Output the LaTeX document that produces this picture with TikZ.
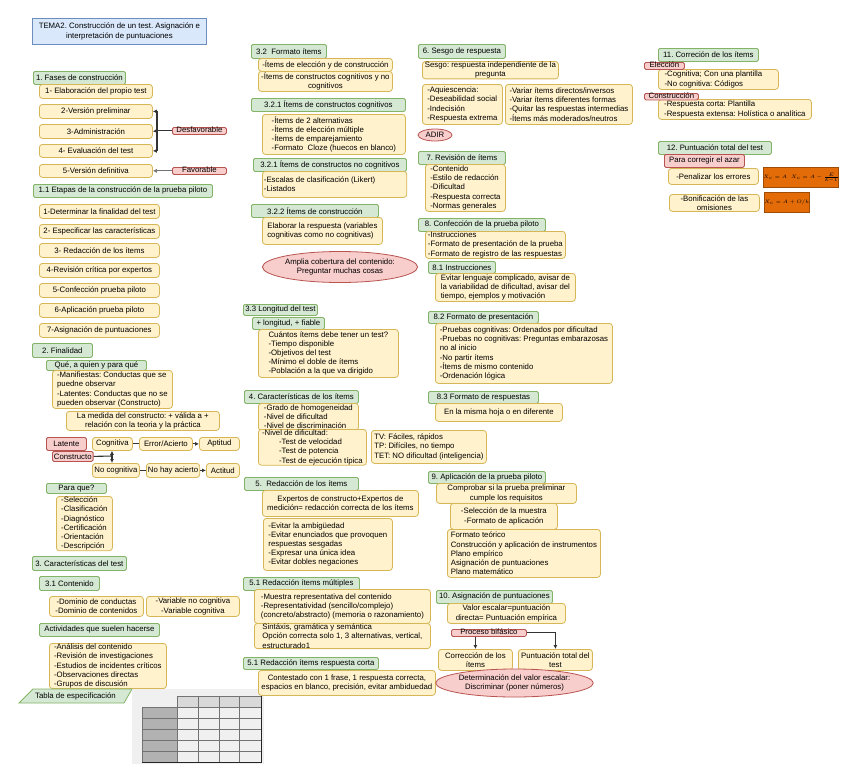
\documentclass[tikz,border=0pt]{standalone}
\usepackage{fontspec}
\setmainfont{Liberation Sans}
\usetikzlibrary{shapes.geometric,arrows.meta}

\definecolor{hdfill}{HTML}{D5E8D4}
\definecolor{hddraw}{HTML}{82B366}
\definecolor{bxfill}{HTML}{FFF2CC}
\definecolor{bxdraw}{HTML}{D6B656}
\definecolor{rdfill}{HTML}{F8CECC}
\definecolor{rddraw}{HTML}{B85450}
\definecolor{tifill}{HTML}{DAE8FC}
\definecolor{tidraw}{HTML}{6C8EBF}
\definecolor{fxfill}{HTML}{E36C09}
\newcommand{\fs}{\fontsize{7.8}{9.2}\selectfont\frenchspacing}

\tikzset{
  base/.style={anchor=north west, font=\fs, inner xsep=1.5pt, inner ysep=0.5pt, line width=0.8pt, align=left},
  wh/.style 2 args={minimum width=#1pt, minimum height=#2pt},
  hd/.style={base, fill=hdfill, draw=hddraw, rounded corners=1.5pt},
  bx/.style={base, fill=bxfill, draw=bxdraw, rounded corners=3pt},
  rd/.style={base, fill=rdfill, draw=rddraw, rounded corners=1.5pt},
  thin/.style={text height=4.5pt, text depth=1pt},
  ti/.style={base, fill=tifill, draw=tidraw},
  fx/.style={base, fill=fxfill, draw=fxfill!70!black, align=center, inner sep=0pt, font=\fontsize{5.5}{6}\selectfont},
  ov/.style={ellipse, fill=rdfill, draw=rddraw, line width=0.8pt, font=\fs, align=center, inner sep=0pt},
  con/.style={draw=black!80, line width=1.1pt},
  tip/.style={con, -{Latex[length=4pt,width=4pt]}},
}

\begin{document}
\begin{tikzpicture}[x=1pt, y=-1pt]
  \useasboundingbox (0,0) rectangle (848,779);

  % titulo
  \node[ti, wh={174}{26}, align=center] (tema) at (32,18) {TEMA2. Construcción de un test. Asignación e\\interpretación de puntuaciones};

  % 1. fases
  \node[hd, wh={92}{13}] (fases) at (33,71) {1. Fases de construcción};
  \node[bx, wh={113}{14}, align=center] (fa) at (39,84) {1- Elaboración del propio test};
  \node[bx, wh={113}{14}, align=center] (fb) at (39,104) {2-Versión preliminar};
  \node[bx, wh={113}{14}, align=center] (fc) at (39,124) {3-Administración};
  \node[bx, wh={113}{13}, align=center] (fd) at (39,144) {4- Evaluación del test};
  \node[bx, wh={113}{13}, align=center] (fe) at (39,164) {5-Versión definitiva};
  \node[rd, thin, wh={54}{7}, align=center] (desf) at (172,127) {Desfavorable};
  \node[rd, thin, wh={54}{7}, align=center] (fav) at (172,167) {Favorable};
  \draw[con] (desf.west) -- ++(-15,0) coordinate (br);
  \draw[tip] (br) |- (fb.east);
  \draw[tip] (br) -- (fc.east);
  \draw[tip] (br) |- (fd.east);
  \draw[tip, draw=black!55] (fav.west) -- (fe.east);

  % 1.1 etapas
  \node[hd, wh={179}{13}] (etapas) at (33,184) {1.1 Etapas de la construcción de la prueba piloto};
  \node[bx, wh={120}{14}, align=center] (ea) at (39,204) {1-Determinar la finalidad del test};
  \node[bx, wh={120}{14}, align=center] (eb) at (39,224) {2- Especificar las características};
  \node[bx, wh={120}{14}, align=center] (ec) at (39,243) {3- Redacción de los ítems};
  \node[bx, wh={120}{14}, align=center] (ed) at (39,263) {4-Revisión crítica por expertos};
  \node[bx, wh={120}{14}, align=center] (ee) at (39,283) {5-Confección prueba piloto};
  \node[bx, wh={120}{14}, align=center] (ef) at (39,303) {6-Aplicación prueba piloto};
  \node[bx, wh={120}{14}, align=center] (eg) at (39,323) {7-Asignación de puntuaciones};

  % 2. finalidad
  \node[hd, wh={60}{14}, align=center] (final) at (32,343) {2. Finalidad};
  \node[hd, wh={100}{10}, align=center] (qq) at (46,360) {Qué, a quien y para qué};
  \node[bx, wh={120}{38}] (mani) at (52,370) {-Manifiestas: Conductas que se\\puedne observar\\-Latentes: Conductas que no se\\pueden observar (Constructo)};
  \node[bx, wh={153}{19}, align=center] (medida) at (66,411) {La medida del constructo: + válida a +\\relación con la teoria y la práctica};
  \node[rd, wh={40}{13}] (latente) at (46,437) {Latente};
  \node[bx, wh={40}{13}, align=center] (cog) at (92,437) {Cognitiva};
  \node[bx, wh={53}{13}, align=center] (erac) at (139,437) {Error/Acierto};
  \node[bx, wh={40}{13}, align=center] (apt) at (199,437) {Aptitud};
  \node[rd, wh={40}{10}] (constr) at (52,451) {Constructo};
  \node[bx, wh={47}{14}, align=center] (ncog) at (92,463) {No cognitiva};
  \node[bx, wh={53}{14}, align=center] (nhay) at (146,463) {No hay acierto};
  \node[bx, wh={33}{14}, align=center] (actit) at (206,463) {Actitud};
  \coordinate (cj) at (112,456);
  \draw[con] (constr.east) -- (cj);
  \draw[tip] (cj) -- (cj |- cog.south);
  \draw[tip] (cj) -- (cj |- ncog.north);
  \draw[con] (cog) -- (erac);
  \draw[tip] (erac) -- (apt);
  \draw[con] (ncog) -- (nhay);
  \draw[tip] (nhay) -- (actit);
  \node[hd, wh={60}{10}, align=center] (paraque) at (46,483) {Para que?};
  \node[bx, wh={56}{54}] (usos) at (56,496) {-Selección\\-Clasificación\\-Diagnóstico\\-Certificación\\-Orientación\\-Descripción};

  % 3. caracteristicas
  \node[hd, wh={94}{14}] (carac) at (32,556) {3. Características del test};
  \node[hd, wh={60}{14}] (conte) at (39,576) {3.1 Contenido};
  \node[bx, wh={94}{20}, align=center] (domin) at (49,596) {-Dominio de conductas\\-Dominio de contenidos};
  \node[bx, wh={93}{20}, align=center] (varia) at (146,596) {-Variable no cognitiva\\-Variable cognitiva};
  \node[hd, wh={120}{13}] (activ) at (39,623) {Actividades que suelen hacerse};
  \node[bx, wh={117}{45}] (activl) at (49,643) {-Análisis del contenido\\-Revisión de investigaciones\\-Estudios de incidentes críticos\\-Observaciones directas\\-Grupos de discusión};
  \draw[fill=hdfill, draw=hddraw, line width=0.8pt] (19,703) -- (33,689) -- (132,689) -- (124,703) -- cycle;
  \node[font=\fs, inner sep=0pt] (tabla) at (75.5,696) {Tabla de especificación};

  % tabla
  \fill[black!6] (132,689) rectangle (264,764);
  \fill[black!30] (142,707) rectangle (177,762);
  \fill[black!15] (177,696) rectangle (261,707);
  \foreach \yy in {707,718,729,740,751,762}
    \draw[black!55, line width=0.5pt] (142,\yy) -- (261,\yy);
  \foreach \xx in {142,177,198,219,239,261}
    \draw[black!55, line width=0.5pt] (\xx,707) -- (\xx,762);
  \foreach \xx in {177,198,219,239,261}
    \draw[black!55, line width=0.5pt] (\xx,696) -- (\xx,707);
  \draw[black!55, line width=0.5pt] (177,696) -- (261,696);
  \draw[black!85, line width=0.8pt] (261,696) -- (261,762) -- (142,762);

  % 3.2 formato items
  \node[hd, wh={75}{14}] (form) at (251,44) {3.2\ \ Formato ítems};
  \node[bx, wh={134}{13}] (forma) at (258,58) {-Ítems de elección y de construcción};
  \node[bx, wh={134}{20}, align=center] (formb) at (258,71) {-Ítems de constructos cognitivos y no\\cognitivos};
  \node[hd, wh={154}{13}, align=center] (cogn) at (251,98) {3.2.1 Ítems de constructos cognitivos};
  \node[bx, wh={143}{40}] (cognl) at (262,114) {-Ítems de 2 alternativas\\-Ítems de elección múltiple\\-Ítems de emparejamiento\\-Formato\ \ Cloze (huecos en blanco)};
  \node[hd, wh={153}{13}, align=center] (ncogn) at (253,158) {3.2.1 Ítems de constructos no cognitivos};
  \node[bx, wh={144}{26}] (ncognl) at (262,171) {-Escalas de clasificación (Likert)\hspace*{30pt}\\-Listados};
  \node[hd, wh={127}{13}, align=center] (constru) at (251,204) {3.2.2 Ítems de construcción};
  \node[bx, wh={120}{27}] (construl) at (262,217) {Elaborar la respuesta (variables\\cognitivas como no cognitivas)};
  \node[ov, minimum width=116pt, minimum height=31pt] (amplia) at (340,267) {Amplia cobertura del contenido:\\Preguntar muchas cosas};

  % 3.3 longitud
  \node[hd, wh={74}{11}] (longi) at (243,304) {3.3 Longitud del test};
  \node[hd, wh={72}{12}, align=center] (fiable) at (252,317) {+ longitud, + fiable};
  \node[bx, wh={140}{48}] (longil) at (258,329) {Cuántos ítems debe tener un test?\\-Tiempo disponible\\-Objetivos del test\\-Mínimo el doble de ítems\\-Población a la que va dirigido};

  % 4. caracteristicas items
  \node[hd, wh={114}{13}] (citem) at (244,390) {4. Características de los ítems};
  \node[bx, wh={100}{27}] (citema) at (258,403) {-Grado de homogeneidad\\-Nivel de dificultad\\-Nivel de discriminación};
  \node[bx, wh={108}{34}] (citemb) at (258,429) {-Nivel de dificultad:\\\hspace*{17pt}-Test de velocidad\\\hspace*{17pt}-Test de potencia\\\hspace*{17pt}-Test de ejecución típica};
  \node[bx, wh={115}{33}] (citemc) at (371,430) {TV: Fáciles, rápidos\\TP: Difíciles, no tiempo\\TET: NO dificultad (inteligencia)};

  % 5. redaccion
  \node[hd, wh={114}{13}, align=center] (redac) at (244,477) {5.\ \ Redacción de los ítems};
  \node[bx, wh={156}{26}, align=center] (redaca) at (262,490) {Expertos de constructo+Expertos de\\medición= redacción correcta de los ítems};
  \node[bx, wh={129}{52}] (redacb) at (263,518) {-Evitar la ambigüedad\\-Evitar enunciados que provoquen\\respuestas sesgadas\\-Expresar una única idea\\-Evitar dobles negaciones};
  \node[hd, wh={116}{13}] (multi) at (243,577) {5.1 Redacción ítems múltiples};
  \node[bx, wh={176}{34}] (multia) at (254,589) {-Muestra representativa del contenido\\-Representatividad (sencillo/complejo)\\(concreto/abstracto) (memoria o razonamiento)};
  \node[bx, wh={176}{25}] (multib) at (254,623) {Sintáxis, gramática y semántica\\Opción correcta solo 1, 3 alternativas, vertical,\\estructurado1};
  \node[hd, wh={135}{12}] (corta) at (243,657) {5.1 Redacción ítems respuesta corta};
  \node[bx, wh={177}{25}, align=center] (cortal) at (258,670) {Contestado con 1 frase, 1 respuesta correcta,\\espacios en blanco, precisión, evitar ambiduedad};

  % 6. sesgo
  \node[hd, wh={87}{14}] (sesgo) at (418,44) {6. Sesgo de respuesta};
  \node[bx, wh={136}{17}, align=center] (sesgoa) at (422,61) {Sesgo: respuesta independiente de la\\pregunta};
  \node[bx, wh={80}{40}] (sesgob) at (422,84) {-Aquiescencia:\\-Deseabilidad social\\-Indecisión\\-Respuesta extrema};
  \node[bx, wh={127}{40}] (sesgoc) at (505,84) {-Variar ítems directos/inversos\\-Variar ítems diferentes formas\\-Quitar las respuestas intermedias\\-Ítems más moderados/neutros};
  \node[ov, minimum width=34pt, minimum height=12pt] (adir) at (435,135) {ADIR};

  % 7. revision
  \node[hd, wh={87}{13}, align=center] (revis) at (418,151) {7. Revisión de ítems};
  \node[bx, wh={80}{47}] (revisl) at (425,164) {-Contenido\\-Estilo de redacción\\-Dificultad\\-Respuesta correcta\\-Normas generales};

  % 8. confeccion
  \node[hd, wh={127}{13}] (confe) at (418,218) {8. Confección de la prueba piloto};
  \node[bx, wh={140}{27}] (confel) at (425,231) {-Instrucciones\\-Formato de presentación de la prueba\\-Formato de registro de las respuestas};
  \node[hd, wh={67}{12}] (instr) at (428,261) {8.1 Instrucciones};
  \node[bx, wh={140}{28}] (instrl) at (435,273) {Evitar lenguaje complicado, avisar de\\la variabilidad de dificultad, avisar del\\tiempo, ejemplos y motivación};
  \node[hd, wh={110}{12}] (prese) at (428,311) {8.2 Formato de presentación};
  \node[bx, wh={177}{60}] (presel) at (435,323) {-Pruebas cognitivas: Ordenados por dificultad\\-Pruebas no cognitivas: Preguntas embarazosas\\no al inicio\\-No partir ítems\\-Ítems de mismo contenido\\-Ordenación lógica};
  \node[hd, wh={110}{12}] (respu) at (428,391) {8.3 Formato de respuestas};
  \node[bx, wh={127}{18}] (respul) at (435,403) {En la misma hoja o en diferente};

  % 9. aplicacion
  \node[hd, wh={117}{12}] (aplic) at (428,471) {9. Aplicación de la prueba piloto};
  \node[bx, wh={140}{20}, align=center] (aplica) at (436,483) {Comprobar si la prueba preliminar\\cumple los requisitos};
  \node[bx, wh={107}{26}, align=center] (aplicb) at (450,503) {-Selección de la muestra\\-Formato de aplicación};
  \node[bx, wh={153}{48}] (aplicc) at (447,529) {Formato teórico\\Construcción y aplicación de instrumentos\\Plano empírico\\Asignación de puntuaciones\\Plano matemático};

  % 10. asignacion
  \node[hd, wh={116}{13}] (asign) at (436,590) {10. Asignación de puntuaciones};
  \node[bx, wh={118}{20}, align=center] (asigna) at (447,603) {Valor escalar=puntuación\\directa= Puntuación empírica};
  \node[rd, thin, wh={75}{7}, align=center] (bifas) at (451,629) {Proceso bifásico};
  \node[bx, wh={74}{21}, align=center] (correc) at (438,649) {Corrección de los\\ítems};
  \node[bx, wh={74}{21}, align=center] (ptotal) at (518,649) {Puntuación total del\\test};
  \draw[tip] (correc.north |- bifas.south) -- (correc.north);
  \draw[tip] (bifas.east) -| (ptotal.north);
  \node[ov, minimum width=141pt, minimum height=28pt] (determ) at (514.5,683) {Determinación del valor escalar:\\Discriminar (poner números)};

  % 11. correcion
  \node[hd, wh={100}{13}] (corre) at (658,48) {11. Correción de los ítems};
  \node[bx, wh={120}{20}] (elecl) at (658,69) {-Cognitiva; Con una plantilla\hspace*{10pt}\\-No cognitiva: Códigos};
  \node[rd, thin, wh={40}{7}] (elec) at (644,62) {Elección};
  \node[bx, wh={153}{20}] (consl) at (658,99) {-Respuesta corta: Plantilla\hspace*{44pt}\\-Respuesta extensa: Holística o analítica};
  \node[rd, thin, wh={54}{6}] (cons) at (644,93) {Construcción};

  % 12. puntuacion total
  \node[hd, wh={113}{13}] (ptot) at (658,141) {12. Puntuación total del test};
  \node[rd, wh={80}{13}] (azar) at (664,154) {Para corregir el azar};
  \node[bx, wh={90}{16}, align=center] (penal) at (668,168) {-Penalizar los errores};
  \node[fx, wh={66}{20}] (fpenal) at (763,167) {$X_c = A \;\; X_c = A - \frac{E}{k-1}$};
  \node[bx, wh={90}{17}, align=center] (bonif) at (669,194) {-Bonificación de las\\omisiones};
  \node[fx, wh={35}{20}] (fbonif) at (764,192) {$X_c = A + O/k$};
\end{tikzpicture}
\end{document}
